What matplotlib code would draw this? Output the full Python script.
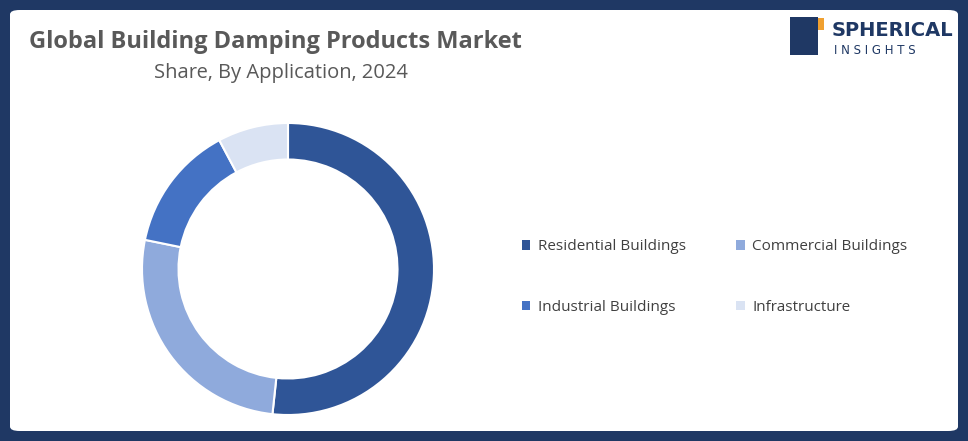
import matplotlib
matplotlib.use("Agg")
import matplotlib.pyplot as plt
from matplotlib.patches import FancyBboxPatch, Patch, Rectangle

categories = ["Residential Buildings", "Commercial Buildings", "Industrial Buildings", "Infrastructure"]
shares = [51.7, 26.5, 14.0, 7.8]
colors = ["#2f5597", "#8faadc", "#4472c4", "#dae3f3"]

W, H = 968, 441
fig = plt.figure(figsize=(W/100, H/100), dpi=100)
fig.patch.set_facecolor("#1f3864")
fig.patches.append(FancyBboxPatch((10/W, 10/H), 948/W, 421/H, boxstyle="round,pad=0,rounding_size=0.01",
                                  transform=fig.transFigure, facecolor="white", edgecolor="none", zorder=-5))

ax = fig.add_axes([142/W, 26/H, 292/W, 292/H])
ax.set_zorder(2)
ax.pie(shares, colors=colors, startangle=90, counterclock=False, radius=1,
       wedgeprops=dict(width=0.25, edgecolor="white", linewidth=1.5))
ax.set_xlim(-1, 1); ax.set_ylim(-1, 1); ax.set_aspect("equal"); ax.axis("off")

fig.text(29/W, 1-42/H, "Global Building Damping Products Market", fontsize=17, fontweight="bold",
         color="#595959", va="center", ha="left", family="Open Sans")
fig.text(281/W, 1-73/H, "Share, By Application, 2024", fontsize=14.5, color="#595959", va="center", ha="center",
         family="Open Sans")

order = [0, 2, 1, 3]
handles = [Patch(facecolor=colors[i], edgecolor="none") for i in order]
labels = [categories[i] for i in order]
leg = fig.legend(handles, labels, ncol=2, loc="center left", bbox_to_anchor=(508/W, 1-277/H),
                 frameon=False, handlelength=0.55, handleheight=0.55, handletextpad=0.5,
                 columnspacing=3.3, labelspacing=2.95, prop=dict(family="Open Sans", size=11))
for t in leg.get_texts():
    t.set_color("#404040")

# logo
fig.patches.append(Rectangle((790/W, 1-55/H), 28/W, 38/H, transform=fig.transFigure,
                             facecolor="#1f3864", edgecolor="none"))
fig.patches.append(Rectangle((818/W, 1-30/H), 6/W, 12/H, transform=fig.transFigure,
                             facecolor="#f0a030", edgecolor="none"))
fig.text(832/W, 1-30/H, "SPHERICAL", fontsize=14, fontweight="bold", color="#1f3864", va="center", ha="left")
fig.text(834/W, 1-50/H, "I N S I G H T S", fontsize=8.5, color="#1f3864", va="center", ha="left")

fig.savefig("out.png", dpi=100, facecolor=fig.get_facecolor())
